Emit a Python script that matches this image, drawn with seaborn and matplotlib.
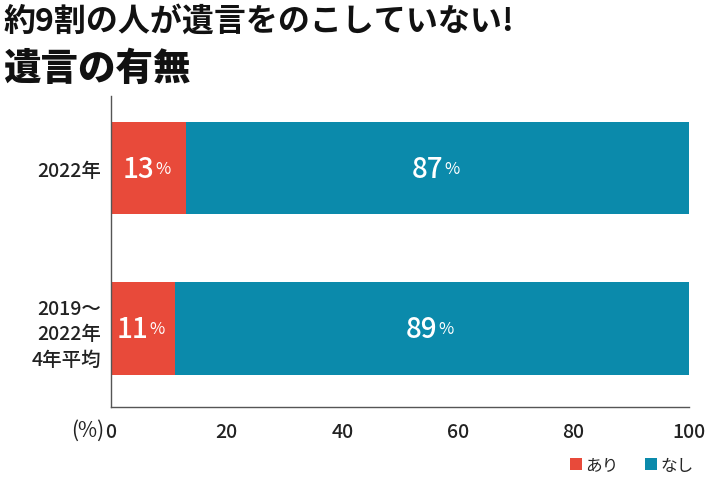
import matplotlib
matplotlib.use("Agg")
import matplotlib.pyplot as plt
import seaborn as sns
import pandas as pd
from matplotlib.patches import Patch

categories = ["2022年", "2019～\n2022年\n4年平均"]
ari = [13, 11]
nashi = [87, 89]
xticks = [0, 20, 40, 60, 80, 100]
title1 = "約9割の人が遺言をのこしていない!"
title2 = "遺言の有無"
legend_labels = ["あり", "なし"]

RED = "#E84A3A"
BLUE = "#0B8AAB"

sns.set_theme(style="white")
plt.rcParams['font.family'] = ['Noto Sans CJK JP', 'DejaVu Sans']

df = pd.DataFrame({"cat": categories, "ari": ari, "nashi": nashi})
df["total"] = df["ari"] + df["nashi"]

fig = plt.figure(figsize=(7.1, 4.81), dpi=100)
ax = fig.add_axes([111/710, 1-408/481, (689-111)/710, (408-97)/481])

sns.barplot(data=df, y="cat", x="total", color=BLUE, orient="h", width=0.575,
            ax=ax, saturation=1, edgecolor="none")
sns.barplot(data=df, y="cat", x="ari", color=RED, orient="h", width=0.575,
            ax=ax, saturation=1, edgecolor="none")

ax.set_xlim(0, 100)
ax.set_ylim(1.49, -0.45)
ax.set_xticks(xticks)
ax.set_xticklabels([str(t) for t in xticks])
ax.set_xlabel("")
ax.set_ylabel("")
for s in ["top", "right"]:
    ax.spines[s].set_visible(False)
for s in ["left", "bottom"]:
    ax.spines[s].set_color("#555555")
    ax.spines[s].set_linewidth(1.0)
ax.tick_params(axis="x", direction="in", length=7, width=1, color="#555555",
               labelsize=14, pad=11, labelcolor="#222222")
ax.tick_params(axis="y", length=0, labelsize=14, pad=7, labelcolor="#222222")
for lab in ax.get_xticklabels():
    lab.set_fontweight("medium")
for lab in ax.get_yticklabels():
    lab.set_horizontalalignment("right")
    lab.set_multialignment("right")
    lab.set_linespacing(1.45)
    lab.set_fontweight("medium")

# value labels
for i, (a, n) in enumerate(zip(ari, nashi)):
    for start, val in ((0, a), (a, n)):
        cx = start + val / 2
        ax.annotate(str(val), xy=(cx, i), xytext=(4, 0), textcoords="offset points",
                    ha="right", va="center", color="white", fontsize=20,
                    fontweight="medium")
        ax.annotate("%", xy=(cx, i), xytext=(5, 0), textcoords="offset points",
                    ha="left", va="center", color="white", fontsize=12)

fig.text(104/710, 1-431/481, "(%)", ha="right", va="center", fontsize=15, color="#222222")

fig.text(4/710, 1-22/481, title1, ha="left", va="center", fontsize=23,
         fontweight="bold", color="#111111")
fig.text(3/710, 1-69/481, title2, ha="left", va="center", fontsize=27,
         fontweight="heavy", color="#111111")

handles = [Patch(facecolor=RED, edgecolor="none"), Patch(facecolor=BLUE, edgecolor="none")]
fig.legend(handles, legend_labels, loc="center right", bbox_to_anchor=(700/710, 1-466/481),
           ncol=2, frameon=False, fontsize=12, handlelength=0.7, handleheight=0.7,
           handletextpad=0.2, columnspacing=1.6, borderaxespad=0)

fig.savefig("out.png", dpi=100)
